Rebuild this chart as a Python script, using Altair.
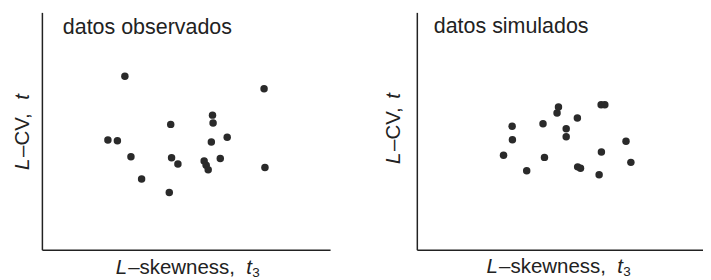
import altair as alt
import pandas as pd

# ---- data (arbitrary units; axes carry no ticks) ----
obs_t3 = [0.288, 0.771, 0.592, 0.594, 0.447, 0.643, 0.588, 0.229, 0.262, 0.309,
          0.450, 0.472, 0.563, 0.570, 0.577, 0.619, 0.774, 0.346, 0.442]
obs_t = [0.731, 0.678, 0.567, 0.534, 0.528, 0.474, 0.454, 0.462, 0.459, 0.392,
         0.387, 0.361, 0.374, 0.356, 0.337, 0.384, 0.346, 0.298, 0.241]

sim_t3 = [0.495, 0.490, 0.644, 0.657, 0.561, 0.441, 0.333, 0.522, 0.522, 0.334,
          0.731, 0.645, 0.303, 0.446, 0.748, 0.384, 0.562, 0.572, 0.637]
sim_t = [0.601, 0.576, 0.611, 0.611, 0.555, 0.531, 0.520, 0.510, 0.476, 0.463,
         0.457, 0.412, 0.398, 0.389, 0.368, 0.333, 0.349, 0.343, 0.316]

panel_titles = ["datos observados", "datos simulados"]
xlab_parts = ["L", "\u2013skewness,", "t", "3"]
ylab_parts = ["L", "\u2013CV,", "t"]

FONT = "Liberation Sans"
INK = "#222222"
H = 238
LAB = 20.5


def txt(s, x, y, size=LAB, style="normal", align="left", angle=0):
    return alt.Chart(alt.Data(values=[{"k": 0}])).mark_text(
        text=s, font=FONT, fontSize=size, fontStyle=style, align=align,
        baseline="alphabetic", angle=angle, color=INK
    ).encode(x=alt.value(x), y=alt.value(y))


def panel(xs, ys, title, W, title_x, title_y, xl_x, xl_y, yl_x, yl_bot, yl_top):
    df = pd.DataFrame({"t3": xs, "t": ys})
    ax = alt.Axis(domain=True, ticks=False, labels=False, grid=False, title=None,
                  domainColor=INK, domainWidth=1.5)
    pts = alt.Chart(df).mark_circle(size=56, color="#2a2a2a", opacity=1).encode(
        x=alt.X("t3:Q", scale=alt.Scale(domain=[0, 1], nice=False, zero=False), axis=ax),
        y=alt.Y("t:Q", scale=alt.Scale(domain=[0, 1], nice=False, zero=False), axis=ax),
    )
    layers = [pts,
              txt(title, title_x, title_y, size=21.5),
              txt(xlab_parts[0], xl_x, xl_y, style="italic"),
              txt(xlab_parts[1], xl_x + 12.5, xl_y),
              txt(xlab_parts[2], xl_x + 131, xl_y, style="italic"),
              txt(xlab_parts[3], xl_x + 137, xl_y + 3, size=13.5),
              txt(ylab_parts[0], yl_x, yl_bot, style="italic", angle=270),
              txt(ylab_parts[1], yl_x, yl_bot - 13, angle=270),
              txt(ylab_parts[2], yl_x, yl_top, style="italic", align="right", angle=270),
              ]
    return alt.layer(*layers).properties(width=W, height=H)


left = panel(obs_t3, obs_t, panel_titles[0], 289, 21, 22, 74, H + 24, -13, 158, 82)
right = panel(sim_t3, sim_t, panel_titles[1], 287, 17, 21, 70, H + 23, -17, 152, 81)

chart = alt.hconcat(left, right, spacing=54).properties(
    padding={"left": 5, "top": 4, "right": 0, "bottom": 0},
    background="white",
).configure_view(strokeWidth=0, stroke="transparent")

chart.save("out.html", embed_options={"renderer": "svg", "actions": False})
